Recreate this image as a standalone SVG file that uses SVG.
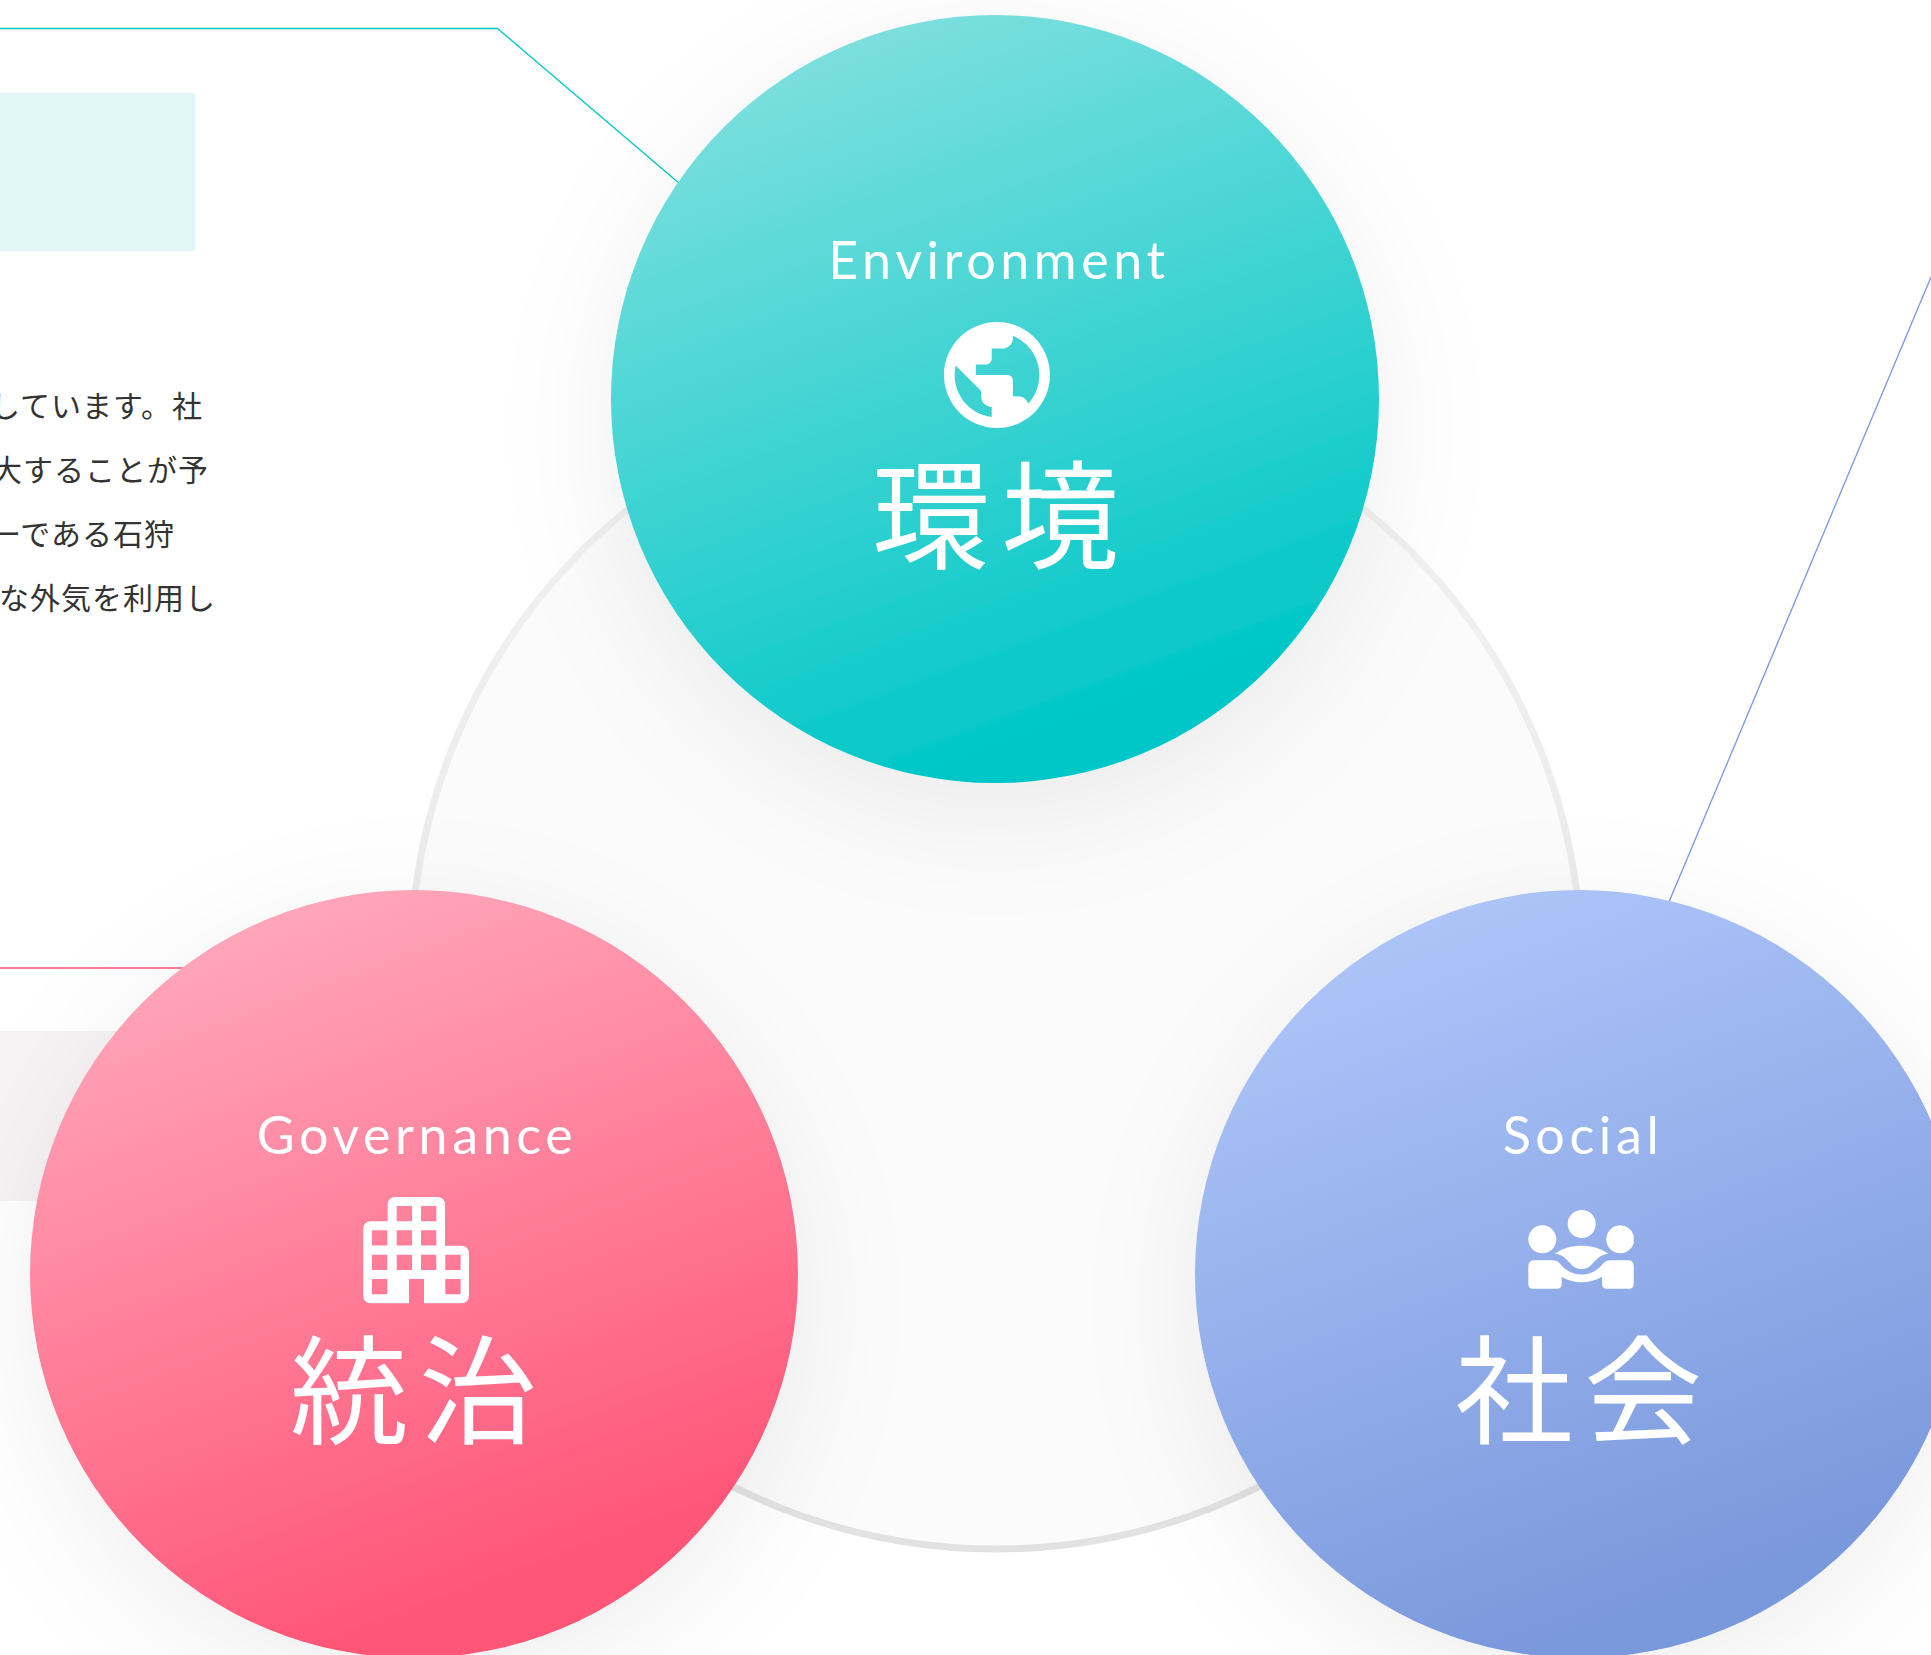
<svg xmlns="http://www.w3.org/2000/svg" width="1931" height="1655" viewBox="0 0 1931 1655">
<style>
.body{font-family:"Noto Sans CJK JP","Noto Sans",sans-serif;font-size:30px;letter-spacing:1px;fill:#333;text-anchor:end;font-weight:400}
.en{font-family:Lato,"Liberation Sans",sans-serif;font-size:52px;fill:#fff;text-anchor:middle;letter-spacing:4.6px}
.jp{font-family:"Noto Sans CJK JP",sans-serif;font-size:118px;fill:#fff;text-anchor:middle;letter-spacing:11px}
.icon{fill:#fff;fill-rule:evenodd}
.conn{fill:none;stroke-width:1.3}
.disc{filter:url(#sh)}
</style>
<defs>
<filter id="sh" x="-40%" y="-40%" width="180%" height="180%"><feDropShadow dx="0" dy="30" stdDeviation="60" flood-color="#000" flood-opacity="0.065"/></filter>
<linearGradient id="ge" x1=".3" y1="0" x2=".64" y2=".92"><stop offset="0" stop-color="#80e0df"/><stop offset="1" stop-color="#00c7c7"/></linearGradient>
<linearGradient id="gg" x1=".3" y1="0" x2=".64" y2=".92"><stop offset="0" stop-color="#ffa9bd"/><stop offset="1" stop-color="#ff5476"/></linearGradient>
<linearGradient id="gs" x1=".3" y1="0" x2=".64" y2=".92"><stop offset="0" stop-color="#aec6f9"/><stop offset="1" stop-color="#7a98dc"/></linearGradient>
<linearGradient id="gr" x1="0" y1="0" x2="0" y2="1"><stop offset="0" stop-color="#f3f3f3"/><stop offset="1" stop-color="#e2e2e2"/></linearGradient>
</defs>
<rect width="1931" height="1655" fill="#fff"/>
<g id="panels">
<rect x="0" y="93" width="195" height="158" fill="#e0f7f7"/>
<rect x="0" y="1031" width="200" height="170" fill="#f7f2f4"/>
</g>
<g id="body-text">
<text class="body" x="203" y="417">しています。社</text>
<text class="body" x="209" y="481">大することが予</text>
<text class="body" x="175" y="545">ーである石狩</text>
<text class="body" x="216" y="609">な外気を利用し</text>
</g>
<g id="connectors">
<path class="conn" stroke="#00c7c7" d="M0 28.500H497.500L680 184"/>
<path class="conn" stroke="#ff5476" d="M0 968H184"/>
<path class="conn" stroke="#7a98dc" d="M1931 277L1669 902"/>
</g>
<g id="ring"><circle cx="996" cy="964" r="585" fill="#fbfbfb" stroke="url(#gr)" stroke-width="7"/></g>
<g id="environment">
<circle class="disc" cx="995" cy="399" r="384" fill="url(#ge)"/>
<text class="en" x="999" y="279">Environment</text>
<path class="icon" transform="translate(933.400 311.400) scale(5.300)" d="M12 2C6.480 2 2 6.480 2 12s4.480 10 10 10 10-4.480 10-10S17.520 2 12 2zm-1 17.930c-3.950-.490-7-3.850-7-7.930 0-.620.080-1.210.210-1.790L9 15v1c0 1.100.900 2 2 2v1.930zm6.900-2.540c-.260-.810-1-1.390-1.900-1.390h-1v-3c0-.550-.450-1-1-1H8v-2h2c.550 0 1-.450 1-1V7h2c1.100 0 2-.900 2-2v-.410c2.930 1.190 5 4.060 5 7.410 0 2.080-.800 3.970-2.100 5.390z"/>
<text class="jp" x="1001" y="560">環境</text>
</g>
<g id="governance">
<circle class="disc" cx="414" cy="1274" r="384" fill="url(#gg)"/>
<text class="en" x="417" y="1154">Governance</text>
<path class="icon" d="M395.700 1197H437Q445 1197 445 1205V1245.700H461Q469 1245.700 469 1253.700V1295.300Q469 1303.300 461 1303.300H424V1279H409V1303.300H371.300Q363.300 1303.300 363.300 1295.300V1229.300Q363.300 1221.300 371.300 1221.300H387.700V1205Q387.700 1197 395.700 1197Z
M396.700 1206h15.300v15.300h-15.300z M421 1206h15.300v15.300h-15.300z
M372 1230.300h15.300v15.300h-15.300z M396.700 1230.300h15.300v15.300h-15.300z M421 1230.300h15.300v15.300h-15.300z
M372 1254.700h15.300v15.300h-15.300z M396.700 1254.700h15.300v15.300h-15.300z M421 1254.700h15.300v15.300h-15.300z M445.300 1254.700h15.300v15.300h-15.300z
M372 1279h15.300v15.300h-15.300z M445.300 1279h15.300v15.300h-15.300z"/>
<text class="jp" x="419" y="1435">統治</text>
</g>
<g id="social">
<circle class="disc" cx="1579" cy="1274" r="384" fill="url(#gs)"/>
<text class="en" x="1583" y="1154">Social</text>
<g class="icon">
<circle cx="1542.300" cy="1239.300" r="14"/>
<circle cx="1581.700" cy="1224" r="14"/>
<path d="M1620.300 1225.300a14 14 0 0 1 13.400 10v8a14 14 0 0 1-13.400 10a14 14 0 0 1 0-28z"/>
<path d="M1555 1253.500C1563 1248 1572 1245.700 1581.700 1245.700C1591 1245.700 1600 1248 1608.300 1253.500C1600 1255 1597 1259 1593 1263C1590 1267 1586 1269 1581.700 1269C1577 1269 1573 1267 1570 1263C1566 1259 1563 1255 1555 1253.500Z"/>
<path d="M1535 1260.300H1553C1558 1260.300 1560 1264 1563 1267C1568 1272 1575 1274.500 1581.700 1274.500C1588 1274.500 1595 1272 1600 1267C1603 1264 1605 1260.300 1610 1260.300H1628Q1633.700 1260.300 1633.700 1266V1284Q1633.700 1288.700 1629 1288.700H1607Q1602 1288.700 1602 1284V1276.700C1590 1284 1573 1284 1561.700 1276.700V1284Q1561.700 1288.700 1557 1288.700H1533Q1528.300 1288.700 1528.300 1284V1266Q1528.300 1260.300 1535 1260.300Z"/>
</g>
<text class="jp" x="1584" y="1435">社会</text>
</g>
</svg>
